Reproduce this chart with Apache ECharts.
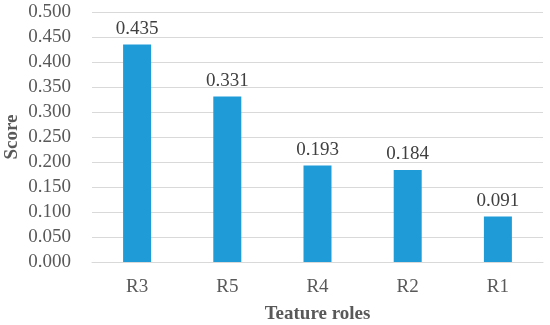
<!DOCTYPE html>
<html>
<head>
<meta charset="utf-8">
<script src="https://cdn.jsdelivr.net/npm/echarts@6/dist/echarts.min.js"></script>
<style>
  html, body { margin: 0; padding: 0; background: #fff; }
  #chart { width: 550px; height: 325px; }
</style>
</head>
<body>
<div id="chart"></div>
<script>
var roles = ['R3', 'R5', 'R4', 'R2', 'R1'];
var scores = [0.435, 0.331, 0.193, 0.184, 0.091];

var chart = echarts.init(document.getElementById('chart'));
var font = '"Liberation Serif", "Times New Roman", serif';

var options = {
  animation: false,
  grid: {
    left: 92,
    right: 7,
    top: 12,
    bottom: 63,
    outerBoundsMode: 'none',
  },
  xAxis: {
    type: 'category',
    data: roles,
    name: 'Teature roles',
    nameLocation: 'middle',
    nameGap: 43,
    nameMoveOverlap: false,
    nameTextStyle: {
      fontFamily: font,
      fontSize: 19,
      fontWeight: 'bold',
      color: '#595959',
    },
    axisLine: {lineStyle: {color: '#d9d9d9'}},
    axisTick: {show: false},
    axisLabel: {
      fontFamily: font,
      fontSize: 19,
      color: '#595959',
      margin: 16,
    },
  },
  yAxis: {
    type: 'value',
    min: 0,
    max: 0.5,
    interval: 0.05,
    name: 'Score',
    nameLocation: 'middle',
    nameGap: 70,
    nameMoveOverlap: false,
    nameTextStyle: {
      fontFamily: font,
      fontSize: 19,
      fontWeight: 'bold',
      color: '#595959',
    },
    axisLabel: {
      fontFamily: font,
      fontSize: 19,
      color: '#595959',
      margin: 21,
      formatter: function(v) { return v.toFixed(3); },
    },
    splitLine: {lineStyle: {color: '#d9d9d9'}},
  },
  series: [
    {
      type: 'bar',
      data: scores,
      barWidth: 28,
      itemStyle: {color: '#1f9bd7'},
      label: {
        show: true,
        position: 'top',
        distance: 6,
        fontFamily: font,
        fontSize: 19,
        color: '#404040',
        formatter: function(p) { return p.value.toFixed(3); },
      },
    },
  ],
};
chart.setOption(options);
</script>
</body>
</html>
